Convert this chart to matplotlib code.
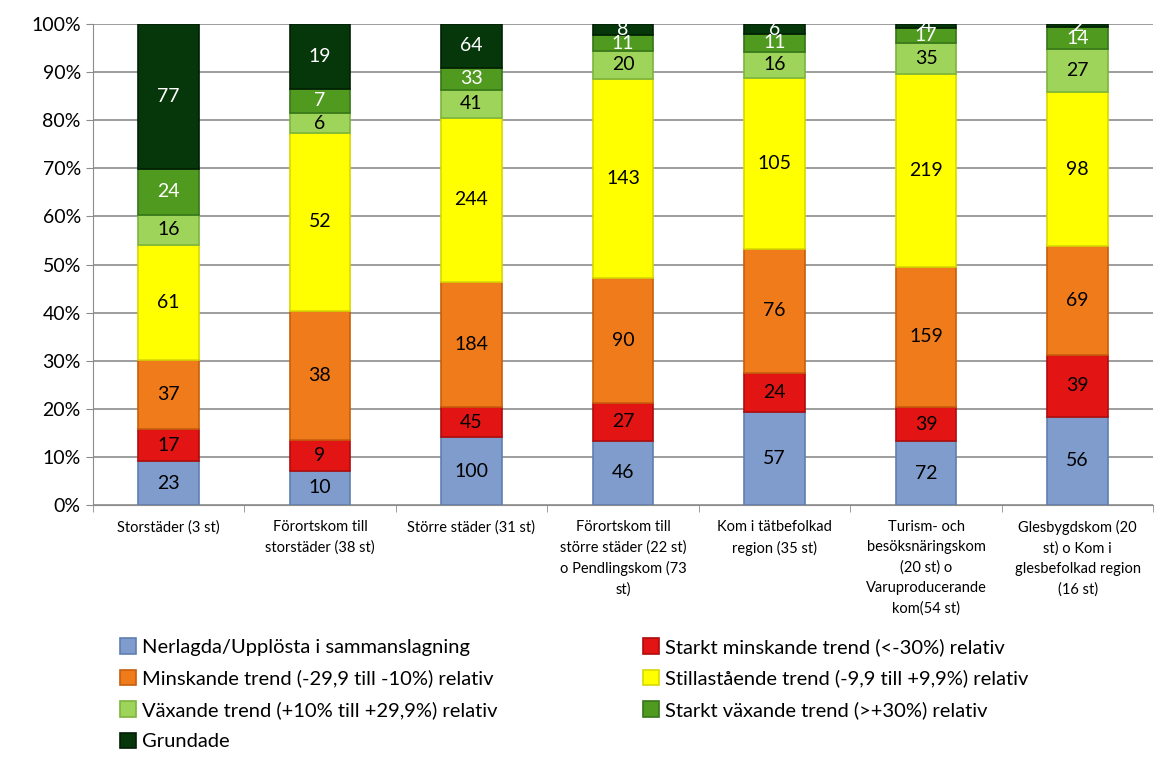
import matplotlib
matplotlib.use("Agg")
import matplotlib.pyplot as plt
import numpy as np
from matplotlib.ticker import PercentFormatter

plt.rcParams['font.family'] = ['Lato', 'DejaVu Sans']

categories = [
	"Storstäder (3 st)",
	"Förortskom till\nstorstäder (38 st)",
	"Större städer (31 st)",
	"Förortskom till\nstörre städer (22 st)\no Pendlingskom (73\nst)",
	"Kom i tätbefolkad\nregion (35 st)",
	"Turism- och\nbesöksnäringskom\n(20 st) o\nVaruproducerande\nkom(54 st)",
	"Glesbygdskom (20\nst) o Kom i\nglesbefolkad region\n(16 st)",
]
series_names = [
	"Nerlagda/Upplösta i sammanslagning",
	"Starkt minskande trend (<-30%) relativ",
	"Minskande trend (-29,9 till -10%) relativ",
	"Stillastående trend (-9,9 till +9,9%) relativ",
	"Växande trend (+10% till +29,9%) relativ",
	"Starkt växande trend (>+30%) relativ",
	"Grundade",
]
nerlagda = [23, 10, 100, 46, 57, 72, 56]
starkt_minskande = [17, 9, 45, 27, 24, 39, 39]
minskande = [37, 38, 184, 90, 76, 159, 69]
stillastaende = [61, 52, 244, 143, 105, 219, 98]
vaxande = [16, 6, 41, 20, 16, 35, 27]
starkt_vaxande = [24, 7, 33, 11, 11, 17, 14]
grundade = [77, 19, 64, 8, 6, 4, 2]

series = [nerlagda, starkt_minskande, minskande, stillastaende, vaxande, starkt_vaxande, grundade]
colors = ["#7f9ccc", "#e31414", "#ef7b1a", "#ffff00", "#9fd45a", "#4f9a1f", "#06370a"]
edges = ["#5f7fb0", "#b00c0c", "#c85e0c", "#d8d800", "#7cb43c", "#36751a", "#021f04"]
text_colors = ["black", "black", "black", "black", "black", "white", "white"]

data = np.array(series, dtype=float)
totals = data.sum(axis=0)
pct = data / totals * 100

fig = plt.figure(figsize=(11.58, 7.58), dpi=100)
ax = fig.add_axes([0.080, 0.334, 0.916, 0.634])

x = np.arange(len(categories))
bottom = np.zeros(len(categories))
handles = []
for i, name in enumerate(series_names):
	b = ax.bar(x, pct[i], 0.4, bottom=bottom, color=colors[i], edgecolor=edges[i],
			   linewidth=1.2, label=name, zorder=3)
	handles.append(b)
	for j in range(len(categories)):
		ax.text(x[j], bottom[j] + pct[i][j] / 2, "%d" % data[i][j], ha="center", va="center",
				fontsize=14, color=text_colors[i], zorder=4)
	bottom += pct[i]

ax.set_xlim(-0.5, len(categories) - 0.5)
ax.set_ylim(0, 100)
ax.set_yticks(np.arange(0, 101, 10))
ax.yaxis.set_major_formatter(PercentFormatter(decimals=0))
ax.grid(axis="y", color="#8c8c8c", linewidth=1.2, zorder=0)
ax.set_xticks(x)
ax.set_xticklabels(categories, fontsize=10.5, linespacing=1.55)
ax.set_xticks(np.arange(-0.5, len(categories), 1), minor=True)
ax.tick_params(axis="x", which="major", length=0, pad=11)
ax.tick_params(axis="x", which="minor", length=5, color="#8c8c8c")
ax.tick_params(axis="y", labelsize=14, length=5, color="#8c8c8c")
for s in ["top", "right"]:
	ax.spines[s].set_visible(False)
ax.spines["left"].set_color("#8c8c8c")
ax.spines["bottom"].set_color("#8c8c8c")

# legend reads row by row in the reference
order = [0, 2, 4, 6, 1, 3, 5]
fig.legend([handles[k] for k in order], [series_names[k] for k in order],
		   loc="lower left", bbox_to_anchor=(0.088, -0.014), ncol=2, frameon=False,
		   fontsize=14.5, handlelength=0.8, handleheight=0.8, handletextpad=0.3,
		   columnspacing=7.2, labelspacing=0.68)

plt.savefig("out.png", dpi=100)
